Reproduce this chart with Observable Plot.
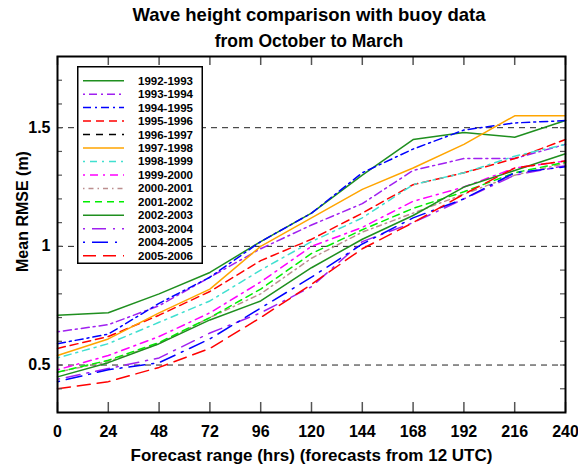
<!DOCTYPE html>
<html><head><meta charset="utf-8">
<script src="https://cdn.jsdelivr.net/npm/d3@7"></script>
<script src="https://cdn.jsdelivr.net/npm/@observablehq/plot@0.6"></script>
<style>
body{margin:0;background:#fff;}
#wrap{position:relative;width:578px;height:469px;font-family:"Liberation Sans",Arial,Helvetica,sans-serif;overflow:hidden;background:#fff}
.t{position:absolute;left:54px;width:510px;text-align:center;font-weight:bold;white-space:nowrap;color:#000}
</style></head><body>
<div id="wrap">
<div class="t" style="top:4px;font-size:18.5px;line-height:22px;">Wave height comparison with buoy data</div>
<div class="t" style="top:30px;font-size:17.5px;line-height:22px;">from October to March</div>
<div id="chart" style="position:absolute;left:0;top:50px;"></div>
<div id="legend" style="position:absolute;left:77px;top:66px;"></div>
</div>
<script>
// ---- data ----
const hours = [0, 24, 48, 72, 96, 120, 144, 168, 192, 216, 240];
const xTicks = [0, 24, 48, 72, 96, 120, 144, 168, 192, 216, 240];
const yTickValues = [0.5, 1, 1.5];
const yTickLabels = ["0.5", "1", "1.5"];
const yMinorTicks = [0.4, 0.5, 0.6, 0.7, 0.8, 0.9, 1.0, 1.1, 1.2, 1.3, 1.4, 1.5, 1.6, 1.7];
const yGrid = [0.5, 1, 1.5];
const xLabel = "Forecast range (hrs) (forecasts from 12 UTC)";
const yLabel = "Mean RMSE (m)";

const seasons = ["1992-1993","1993-1994","1994-1995","1995-1996","1996-1997","1997-1998","1998-1999",
                 "1999-2000","2000-2001","2001-2002","2002-2003","2003-2004","2004-2005","2005-2006"];

const rmse_1992_1993 = [0.71, 0.72, 0.80, 0.89, 1.02, 1.14, 1.30, 1.45, 1.48, 1.46, 1.53];
const rmse_1993_1994 = [0.64, 0.67, 0.75, 0.87, 0.99, 1.09, 1.18, 1.32, 1.37, 1.37, 1.43];
const rmse_1994_1995 = [0.59, 0.63, 0.76, 0.87, 1.02, 1.14, 1.31, 1.41, 1.49, 1.52, 1.53];
const rmse_1995_1996 = [0.57, 0.62, 0.71, 0.81, 0.94, 1.03, 1.14, 1.26, 1.31, 1.37, 1.45];
const rmse_1996_1997 = [];
const rmse_1997_1998 = [0.54, 0.61, 0.72, 0.82, 1.00, 1.12, 1.24, 1.33, 1.43, 1.55, 1.55];
const rmse_1998_1999 = [0.53, 0.59, 0.68, 0.77, 0.90, 1.02, 1.12, 1.26, 1.31, 1.38, 1.43];
const rmse_1999_2000 = [0.48, 0.54, 0.62, 0.72, 0.85, 1.00, 1.08, 1.19, 1.25, 1.33, 1.36];
const rmse_2000_2001 = [0.47, 0.515, 0.59, 0.70, 0.80, 0.95, 1.06, 1.14, 1.22, 1.30, 1.35];
const rmse_2001_2002 = [0.47, 0.52, 0.595, 0.70, 0.82, 0.97, 1.07, 1.16, 1.23, 1.31, 1.355];
const rmse_2002_2003 = [0.45, 0.51, 0.59, 0.69, 0.77, 0.91, 1.03, 1.13, 1.25, 1.32, 1.39];
const rmse_2003_2004 = [0.44, 0.485, 0.53, 0.635, 0.72, 0.83, 1.02, 1.10, 1.20, 1.30, 1.34];
const rmse_2004_2005 = [0.43, 0.48, 0.51, 0.61, 0.74, 0.87, 1.01, 1.12, 1.20, 1.31, 1.335];
const rmse_2005_2006 = [0.40, 0.43, 0.49, 0.57, 0.70, 0.84, 0.99, 1.10, 1.22, 1.33, 1.36];

const seriesValues = [rmse_1992_1993, rmse_1993_1994, rmse_1994_1995, rmse_1995_1996, rmse_1996_1997,
  rmse_1997_1998, rmse_1998_1999, rmse_1999_2000, rmse_2000_2001, rmse_2001_2002, rmse_2002_2003,
  rmse_2003_2004, rmse_2004_2005, rmse_2005_2006];

// ---- styles ----
const seriesColors = ["#1f8f1f","#a020f0","#0000ff","#ff0000","#000000","#ffa500","#40e0d0",
                      "#ff00ff","#bc8f8f","#00ee00","#1f8f1f","#a020f0","#0000ff","#ff0000"];
const seriesDash = [null,"2,4,8,4","8,4,2,4","8,5","7,6",null,"2,5,7,5",
                    "2,5,8,5","1.5,4,5,4","7,5",null,"2,7,14,7","2,7,16,7","13,7"];

const rows = seasons.flatMap((s, i) => seriesValues[i].map((v, j) => ({season: s, hour: hours[j], rmse: v})));

const W = 578, H = 419, mT = 6, mB = 57, mL = 57, mR = 13;
const fh = H - mT - mB, fw = W - mL - mR;
const font = "Liberation Sans, Arial, Helvetica, sans-serif";

const lineMarks = seasons.map((s, i) => Plot.line(rows.filter(d => d.season === s), {
  x: "hour", y: "rmse", stroke: seriesColors[i], strokeWidth: 1.5,
  strokeDasharray: seriesDash[i] || undefined
}));

const chart = Plot.plot({
  width: W, height: H, marginTop: mT, marginBottom: mB, marginLeft: mL, marginRight: mR,
  style: {fontFamily: font, background: "transparent", color: "#000", overflow: "visible"},
  x: {domain: [0, 240]},
  y: {domain: [0.3, 1.8]},
  marks: [
    Plot.ruleY(yGrid, {stroke: "#222", strokeDasharray: "6,5", strokeWidth: 1}),
    ...lineMarks,
    Plot.ruleX(xTicks, {stroke: "#555", strokeWidth: 1.5, insetTop: fh - 10}),
    Plot.ruleX(xTicks, {stroke: "#555", strokeWidth: 1.5, insetBottom: fh - 9}),
    Plot.ruleY(yMinorTicks, {stroke: "#555", strokeWidth: 1.2, insetRight: fw - 5}),
    Plot.ruleY(yMinorTicks, {stroke: "#555", strokeWidth: 1.2, insetLeft: fw - 5}),
    Plot.frame({stroke: "#000", strokeWidth: 2}),
    Plot.axisX(xTicks, {tickSize: 0, tickPadding: 13, fontSize: 16, fontWeight: "bold", label: null}),
    Plot.axisY(yTickValues, {tickSize: 0, tickPadding: 7, fontSize: 16, fontWeight: "bold", label: null,
      tickFormat: d => yTickLabels[yTickValues.indexOf(d)]}),
    Plot.text([xLabel], {frameAnchor: "bottom", dy: 48, fontSize: 17, fontWeight: "bold"}),
    Plot.text([yLabel], {frameAnchor: "left", textAnchor: "middle", dx: -35, dy: -23, rotate: -90,
      fontSize: 16, fontWeight: "bold"})
  ]
});
document.getElementById("chart").appendChild(chart);

// ---- legend ----
const lw = 126, lh = 198;
const leg = d3.create("svg").attr("width", lw).attr("height", lh)
  .style("font-family", font).style("display", "block");
leg.append("rect").attr("x", 0.75).attr("y", 0.75).attr("width", lw - 1.5).attr("height", lh - 1.5)
  .attr("fill", "#fff").attr("stroke", "#000").attr("stroke-width", 1.5);
seasons.forEach((s, i) => {
  const y = 14.7 + i * 13.46;
  leg.append("line").attr("x1", 6).attr("x2", 47).attr("y1", y).attr("y2", y)
    .attr("stroke", seriesColors[i]).attr("stroke-width", 1.5)
    .attr("stroke-dasharray", seriesDash[i]);
  leg.append("text").attr("x", 61).attr("y", y).attr("dy", "0.35em")
    .attr("font-size", 11.5).attr("font-weight", "bold").text(s);
});
document.getElementById("legend").appendChild(leg.node());
</script>
</body></html>
